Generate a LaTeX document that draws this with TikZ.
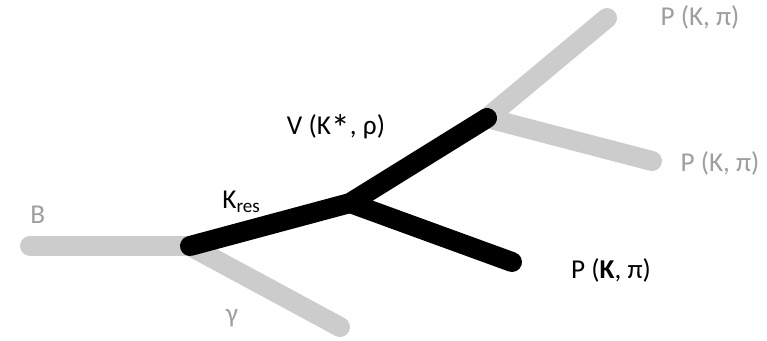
\documentclass[tikz,border=0pt]{standalone}
\usepackage{fontspec}
\setmainfont{Carlito}
\usetikzlibrary{positioning}
\tikzset{
  faint/.style={line width=0.4cm, line cap=round, line join=round, draw=black!20},
  strong/.style={line width=0.4cm, line cap=round, line join=round, draw=black},
  faintlabel/.style={text=black!38, font=\fontsize{15.5}{18}\selectfont, inner sep=0pt},
  label/.style={text=black, font=\fontsize{15.5}{18}\selectfont, inner sep=0pt}
}
\begin{document}
\begin{tikzpicture}[x=0.02cm, y=-0.02cm]
    \useasboundingbox (0,0) rectangle (767,341);

    % Vertices
    \coordinate (b) at (30,246);
    \coordinate (bvtx) at (190,246);
    \coordinate (gam) at (340,327);
    \coordinate (kvtx) at (350,203);
    \coordinate (pk) at (512,262);
    \coordinate (vvtx) at (487,118);
    \coordinate (p1) at (607,18);
    \coordinate (p2) at (652,161);

    % Grey legs
    \draw [faint] (b) -- (bvtx) -- (gam);
    \draw [faint] (p1) -- (vvtx) -- (p2);

    % Black legs
    \draw [strong] (bvtx) -- (kvtx) -- (vvtx);
    \draw [strong] (kvtx) -- (pk);

    % Labels
    \node (blab) [faintlabel, anchor=west] at (30,215) {B};
    \node (glab) [faintlabel] at (232,318) {γ};
    \node (klab) [label, anchor=west] at (222,202) {K\textsubscript{res}};
    \node (vlab) [label] at (336,128) {V (K\raisebox{-0.55ex}{\scalebox{1.4}{*}}, ρ)};
    \node (p1lab) [faintlabel] at (700,17) {P (K, π)};
    \node (p2lab) [faintlabel] at (720,163) {P (K, π)};
    \node (pklab) [label] at (611,270) {P (\textbf{K}, π)};

\end{tikzpicture}
\end{document}
